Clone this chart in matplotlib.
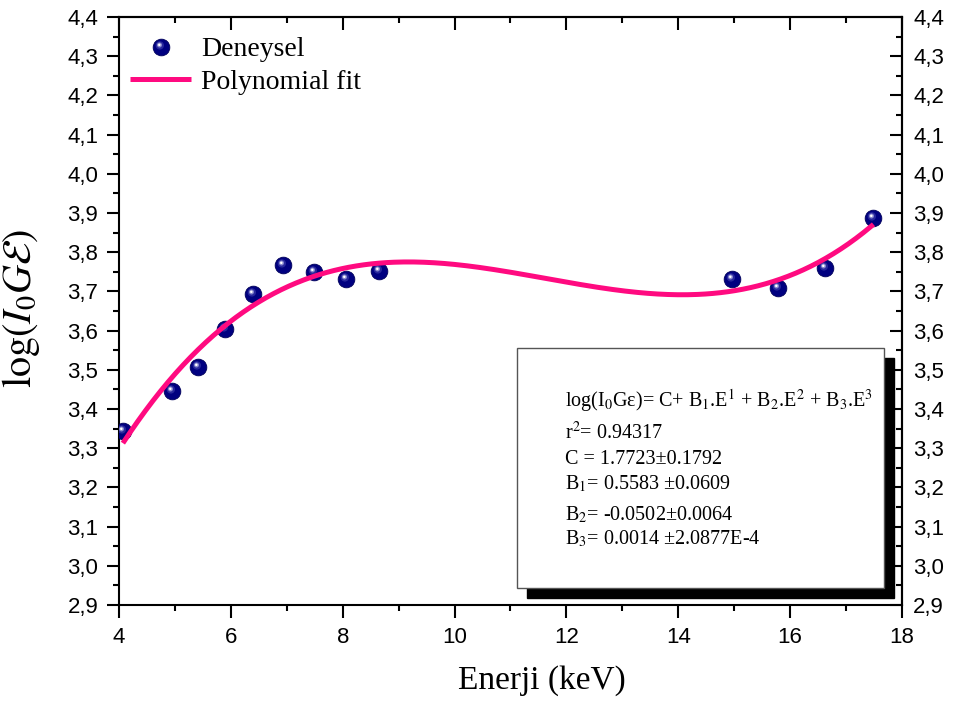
import numpy as np
import matplotlib
matplotlib.use("Agg")
import matplotlib.pyplot as plt
from matplotlib.path import Path
from matplotlib.markers import MarkerStyle
from matplotlib.legend_handler import HandlerTuple
from matplotlib.patches import Rectangle

# ---- data ----
energy = [4.07, 4.95, 5.41, 5.90, 6.40, 6.93, 7.48, 8.05, 8.64, 14.96, 15.78, 16.62, 17.49]
log_ige = [3.344, 3.445, 3.508, 3.604, 3.693, 3.767, 3.749, 3.732, 3.752, 3.732, 3.708, 3.760, 3.888]

x_ticks = [4, 6, 8, 10, 12, 14, 16, 18]
x_tick_labels = ["4", "6", "8", "10", "12", "14", "16", "18"]
y_ticks = [2.9, 3.0, 3.1, 3.2, 3.3, 3.4, 3.5, 3.6, 3.7, 3.8, 3.9, 4.0, 4.1, 4.2, 4.3, 4.4]
y_tick_labels = ["2,9", "3,0", "3,1", "3,2", "3,3", "3,4", "3,5", "3,6", "3,7",
                 "3,8", "3,9", "4,0", "4,1", "4,2", "4,3", "4,4"]

legend_labels = ["Deneysel", "Polynomial fit"]
fit_lines = [
    "log(I$_0$G\u03b5)= C+ B$_1$.E$^1$ + B$_2$.E$^2$ + B$_3$.E$^3$",
    "r$^2$= 0.94317",
    "C = 1.7723\u00b10.1792",
    "B$_1$= 0.5583 \u00b10.0609",
    "B$_2$= -0.0502\u00b10.0064",
    "B$_3$= 0.0014 \u00b12.0877E-4",
]

# cubic polynomial fit of the experimental points
coef = np.polyfit(energy, log_ige, 3)
xf = np.linspace(min(energy), max(energy), 300)
yf = np.polyval(coef, xf)

fig = plt.figure(figsize=(9.55, 7.04), dpi=100)
ax = fig.add_axes([0.1246, 0.1406, 0.8199, 0.8353])

navy = "#000080"
pink = "#FF0A80"

# sphere-like markers: navy disc + highlight
def offset_circle(cx, cy, r):
    anchors = Path([(1, 1), (-1, -1)], [Path.MOVETO, Path.MOVETO])
    circ = Path.circle((cx, cy), r)
    return Path.make_compound_path(anchors, circ)

hl1 = MarkerStyle(offset_circle(-0.2, 0.25, 0.5))
hl2 = MarkerStyle(offset_circle(-0.24, 0.3, 0.3))
hl3 = MarkerStyle(offset_circle(-0.26, 0.32, 0.15))
ms = 12

l_base, = ax.plot(energy, log_ige, ls="none", marker="o", ms=ms, mfc=navy,
                  mec="#00005a", mew=0.6, zorder=3)
l_h1, = ax.plot(energy, log_ige, ls="none", marker=hl1, ms=ms, mfc="#3a3aa8",
                mec="none", alpha=0.7, zorder=3.1)
l_h2, = ax.plot(energy, log_ige, ls="none", marker=hl2, ms=ms, mfc="#9a9ad8",
                mec="none", alpha=0.85, zorder=3.2)
l_h3, = ax.plot(energy, log_ige, ls="none", marker=hl3, ms=ms, mfc="#ffffff",
                mec="none", zorder=3.3)
l_fit, = ax.plot(xf, yf, color=pink, lw=3.6, zorder=4, solid_capstyle="butt")

ax.set_xlim(4, 18)
ax.set_ylim(2.9, 4.4)

tick_font = dict(family="Liberation Sans", size=16)
ax.set_xticks(x_ticks)
ax.set_xticklabels(x_tick_labels, fontdict=tick_font)
ax.set_xticks(np.arange(4, 18.01, 1), minor=True)
ax.set_yticks(y_ticks)
ax.set_yticklabels(y_tick_labels, fontdict=tick_font)
ax.set_yticks(np.arange(2.9, 4.401, 0.05), minor=True)

ax.tick_params(axis="both", which="major", direction="out", length=9, width=1.5)
ax.tick_params(axis="x", which="major", pad=7)
ax.tick_params(axis="y", which="major", pad=6)
ax.tick_params(axis="both", which="minor", direction="out", length=4.5, width=1.5)
ax.tick_params(top=False, right=False, which="both")
for s in ax.spines.values():
    s.set_linewidth(1.5)

sec_y = ax.secondary_yaxis("right")
sec_y.set_yticks(y_ticks)
sec_y.set_yticklabels(y_tick_labels, fontdict=tick_font)
sec_y.set_yticks(np.arange(2.9, 4.401, 0.05), minor=True)
sec_y.tick_params(which="major", direction="in", length=9, width=1.5, pad=8)
sec_y.tick_params(which="minor", direction="in", length=4.5, width=1.5)
sec_y.spines["right"].set_linewidth(1.5)

sec_x = ax.secondary_xaxis("top")
sec_x.set_xticks(x_ticks)
sec_x.set_xticklabels([])
sec_x.set_xticks(np.arange(4, 18.01, 1), minor=True)
sec_x.tick_params(which="major", direction="in", length=9, width=1.5)
sec_x.tick_params(which="minor", direction="in", length=4.5, width=1.5)
sec_x.spines["top"].set_linewidth(1.5)

ax.set_xlabel("Enerji (keV)", family="Liberation Serif", size=24)
ax.xaxis.set_label_coords(0.540, -0.102)
ax.set_ylabel(r"$\mathrm{log}(I_0G\mathcal{E})$", size=29, math_fontfamily="stix")
ax.yaxis.set_label_coords(-0.098, 0.505)

# legend
leg = ax.legend([(l_base, l_h1, l_h2, l_h3), l_fit], legend_labels,
                handler_map={tuple: HandlerTuple(ndivide=1, pad=0)},
                loc="upper left", bbox_to_anchor=(0.014, 0.966), frameon=False,
                borderpad=0, borderaxespad=0, handlelength=2.2, handletextpad=0.35,
                labelspacing=0.25, prop=dict(family="Liberation Serif", size=20))

# fit result box with shadow
bx0, by0, bw, bh = 0.508, 0.029, 0.469, 0.408
ax.add_patch(Rectangle((bx0 + 0.0128, by0 - 0.017), bw, bh, transform=ax.transAxes,
                       facecolor="black", edgecolor="black", zorder=5, clip_on=False))
ax.add_patch(Rectangle((bx0, by0), bw, bh, transform=ax.transAxes,
                       facecolor="white", edgecolor="#555555", lw=1.0, zorder=6,
                       clip_on=False))
baselines_px = [407, 439, 464, 489, 520, 544]
for txt, ypx in zip(fit_lines, baselines_px):
    ax.text(0.570, (605 - ypx) / 588, txt, transform=ax.transAxes, ha="left",
            va="baseline", family="Liberation Serif", size=14.5,
            math_fontfamily="stix", zorder=7)

fig.savefig("out.png", dpi=100)
